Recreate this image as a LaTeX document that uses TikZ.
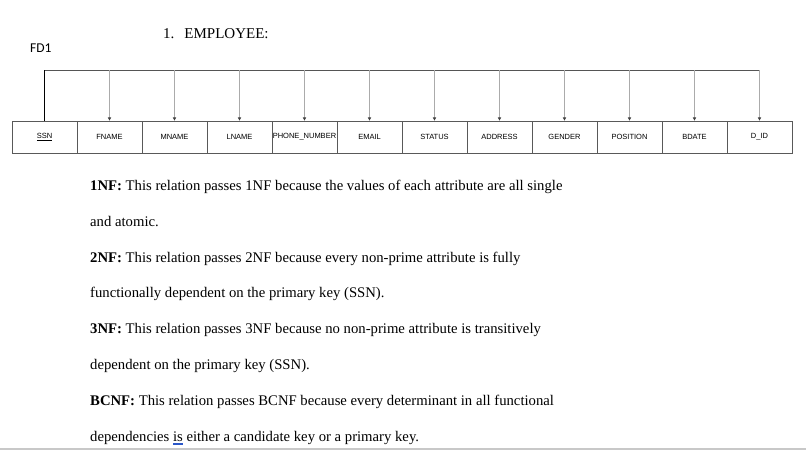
\documentclass[tikz,border=0pt]{standalone}
\usepackage{fontspec}
\setmainfont{Liberation Serif}
\newfontfamily\arialf{Liberation Sans}
\newfontfamily\calibf{Carlito}
\usetikzlibrary{arrows.meta}
\definecolor{linegray}{HTML}{ABABAB}
\definecolor{busgray}{HTML}{555555}
\definecolor{bordergray}{HTML}{C8C8C8}
\definecolor{spellblue}{HTML}{2B57C8}
\newcommand{\spellul}[1]{{\setbox0\hbox{#1}\rlap{\color{spellblue}\rule[-2.4pt]{\wd0}{0.6pt}}\rlap{\color{spellblue}\rule[-3.8pt]{\wd0}{0.6pt}}\box0}}
\begin{document}
\begin{tikzpicture}[x=1pt,y=-1pt,
  cell/.style={draw=black!65,line width=0.8pt,minimum width=65pt,minimum height=32pt,inner sep=0pt,font=\arialf\fontsize{7.5}{9}\selectfont},
  txt/.style={anchor=base west,inner sep=0pt,font=\fontsize{14.7}{18}\selectfont},
  fdarrow/.style={draw=linegray,line width=0.9pt,-{Triangle[length=3.2pt,width=3.2pt,color=black!75]}},
  bus/.style={draw=busgray,line width=0.9pt}]
\useasboundingbox (0,0) rectangle (806,450);
\fill[white] (0,0) rectangle (806,450);

% title and label
\node[anchor=base west,inner sep=0pt,font=\fontsize{15}{18}\selectfont] (title) at (163,38) {1.\hspace{10pt}EMPLOYEE:};
\node[anchor=base west,inner sep=0pt,font=\calibf\fontsize{13.5}{16}\selectfont] (fd) at (30,52) {FD1};

% table cells
\foreach \i/\lab in {1/\underline{SSN},2/FNAME,3/MNAME,4/LNAME,5/PHONE\_NUMBER,6/EMAIL,7/STATUS,8/ADDRESS,9/GENDER,10/POSITION,11/BDATE,12/D\_ID}{
  \node[cell] (c\i) at ({44.5+65*(\i-1)},137) {\lab};
}

% bus coordinates
\foreach \i in {1,...,12}{
  \coordinate (b\i) at (c\i.north |- 0,70);
}
\draw[bus] (b1) -- (b12);
\draw[line width=0.9pt,black] (c1.north) -- (b1);
\foreach \i in {2,...,12}{
  \draw[fdarrow] (b\i) -- (c\i.north);
}

% body text
\node[txt] (l1) at (90,190.5) {\textbf{1NF:} This relation passes 1NF because the values of each attribute are all single};
\node[txt] (l2) at (90,226.3) {and atomic.};
\node[txt] (l3) at (90,262) {\textbf{2NF:} This relation passes 2NF because every non-prime attribute is fully};
\node[txt] (l4) at (90,297.8) {functionally dependent on the primary key (SSN).};
\node[txt] (l5) at (90,333.6) {\textbf{3NF:} This relation passes 3NF because no non-prime attribute is transitively};
\node[txt] (l6) at (90,369.4) {dependent on the primary key (SSN).};
\node[txt] (l7) at (90,405.2) {\textbf{BCNF:} This relation passes BCNF because every determinant in all functional};
\node[txt] (l8) at (90,441) {dependencies \spellul{is} either a candidate key or a primary key.};

% bottom rule
\draw[bordergray,line width=2pt] (0,448.8) -- (806,448.8);
\end{tikzpicture}
\end{document}
